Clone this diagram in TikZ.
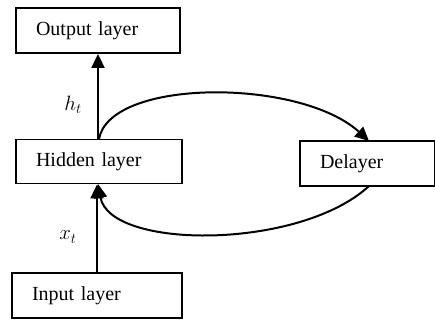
\documentclass[tikz,border=0pt]{standalone}
\usepackage{fontspec}
\setmainfont{Liberation Serif}
\usetikzlibrary{arrows.meta}
\begin{document}
\begin{tikzpicture}[x=1pt,y=1pt,
  layerbox/.style={draw, line width=1.9pt, minimum height=45pt, inner xsep=20pt, align=left,
    font=\fontsize{20}{24}\selectfont},
  conn/.style={line width=2pt, -{Triangle[length=14pt,width=13pt]}},
  lbl/.style={font=\fontsize{21}{24}\selectfont}]
\useasboundingbox (0,0) rectangle (435,320);
\node[layerbox, text width=124pt] (out) at (98,289.5) {Output layer};
\node[layerbox, text width=126pt, minimum height=44pt] (hid) at (99,158.5) {Hidden layer};
\node[layerbox, text width=130pt] (inp) at (97,24.5) {Input layer};
\node[layerbox, text width=95pt] (del) at (367.5,156.5) {Delayer};
\draw[conn] (hid.north -| out.south) -- (out.south);
\draw[conn] (inp.north) -- (inp.north |- hid.south);
\coordinate (hs) at (99,181);
\coordinate (ds) at (369,179);
\coordinate (db) at (369,134);
\coordinate (hb) at (98,136);
\draw[conn] (hs) .. controls (110,242) and (300,242) .. (ds);
\draw[conn] (db) .. controls (300,70) and (110,70) .. (hb);
\node[lbl] (ht) at (73,215) {$h_t$};
\node[lbl] (xt) at (68,83) {$x_t$};
\end{tikzpicture}
\end{document}
